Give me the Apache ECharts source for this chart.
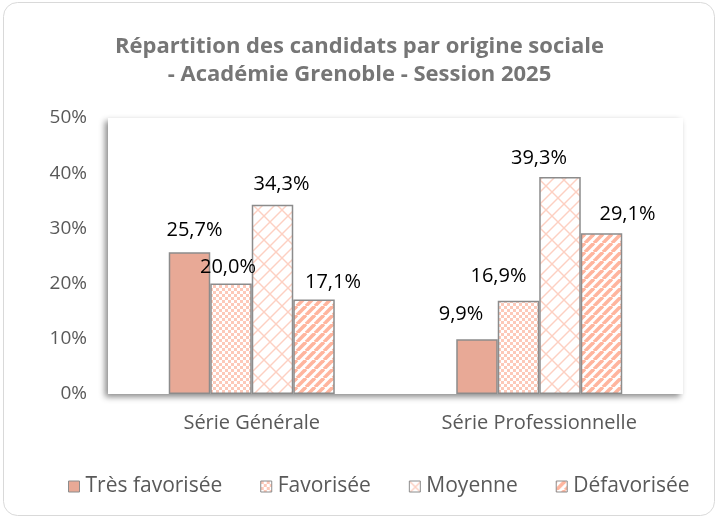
<!DOCTYPE html>
<html>
<head>
<meta charset="utf-8">
<script src="https://cdn.jsdelivr.net/npm/echarts@6/dist/echarts.min.js"></script>
<style>
  html, body { margin: 0; padding: 0; background: #fff; }
  #chart { width: 719px; height: 519px; }
</style>
</head>
<body>
<div id="chart"></div>
<script>
var categories = ["Série Générale", "Série Professionnelle"];
var seriesNames = ["Très favorisée", "Favorisée", "Moyenne", "Défavorisée"];
var tresFavorisee = [25.7, 9.9];
var favorisee = [20.0, 16.9];
var moyenne = [34.3, 39.3];
var defavorisee = [17.1, 29.1];
var yTicks = [0, 10, 20, 30, 40, 50];

// décalage manuel des étiquettes (comme dans le classeur d'origine)
var labelShift = [
  [[5, -12], [-16, -15]],
  [[-3, -6], [-20, -14]],
  [[9, -10], [-21, -9]],
  [[19, -7], [26, -9]]
];

// motifs de remplissage
function makeChecker() {
  var c = document.createElement("canvas");
  c.width = 6; c.height = 6;
  var g = c.getContext("2d");
  g.fillStyle = "#ffffff";
  g.fillRect(0, 0, 6, 6);
  g.fillStyle = "#fdc9b9";
  g.fillRect(0, 0, 3, 3);
  g.fillRect(3, 3, 3, 3);
  return c;
}
function makeStripes() {
  var c = document.createElement("canvas");
  c.width = 9; c.height = 9;
  var g = c.getContext("2d");
  g.fillStyle = "#ffffff";
  g.fillRect(0, 0, 9, 9);
  g.strokeStyle = "#ffb59e";
  g.lineWidth = 3.6;
  for (var x = -9; x <= 9; x += 9) {
    g.beginPath();
    g.moveTo(x, 9);
    g.lineTo(x + 9, 0);
    g.stroke();
  }
  return c;
}
function makeBrick() {
  var T = 24;
  var c = document.createElement("canvas");
  c.width = T; c.height = T;
  var g = c.getContext("2d");
  g.fillStyle = "#ffffff";
  g.fillRect(0, 0, T, T);
  g.strokeStyle = "#fdd0c2";
  g.lineWidth = 1.4;
  for (var k = -4; k <= 6; k++) {
    g.beginPath();
    g.moveTo(12 * k - 40, 40);
    g.lineTo(12 * k + 40, -40);
    g.stroke();
    var t0 = (k % 2 === 0) ? 0 : 6;
    for (var m = -4; m <= 6; m++) {
      var t = t0 + 12 * m;
      g.beginPath();
      g.moveTo(t, 12 * k - t);
      g.lineTo(t + 6, 12 * k - t + 6);
      g.stroke();
    }
  }
  return c;
}

var colors = [
  "#e8a996",
  { image: makeChecker(), repeat: "repeat" },
  { image: makeBrick(), repeat: "repeat" },
  { image: makeStripes(), repeat: "repeat" }
];
var dataSets = [tresFavorisee, favorisee, moyenne, defavorisee];

var font = "'Open Sans', sans-serif";

function fmt(v) {
  return v.toFixed(1).replace(".", ",") + "%";
}

var series = [];
for (var i = 0; i < seriesNames.length; i++) {
  var items = [];
  for (var j = 0; j < dataSets[i].length; j++) {
    items.push({ value: dataSets[i][j], label: { offset: labelShift[i][j] } });
  }
  series.push({
    name: seriesNames[i],
    type: "bar",
    data: items,
    barWidth: 41.5,
    barGap: "0%",
    itemStyle: {
      color: colors[i],
      borderColor: "#8c8c8c",
      borderWidth: 1.5
    },
    label: {
      show: true,
      position: "top",
      distance: 0,
      color: "#000000",
      fontSize: 20,
      fontFamily: font,
      formatter: function (p) { return fmt(p.value); }
    }
  });
}

var chart = echarts.init(document.getElementById("chart"), null, { renderer: "canvas" });
chart.setOption({
  animation: false,
  title: {
    text: "Répartition des candidats par origine sociale\n- Académie Grenoble - Session 2025",
    left: "center",
    top: 28,
    textStyle: {
      color: "#767676",
      fontSize: 22,
      fontWeight: "bold",
      fontFamily: font,
      lineHeight: 28
    }
  },
  graphic: [{
    type: "rect",
    shape: { x: 3.5, y: 2.5, width: 711, height: 513, r: 14 },
    style: { fill: "none", stroke: "#d9d9d9", lineWidth: 1 },
    z: -10
  }],
  grid: {
    show: true,
    left: 108,
    right: 36,
    top: 118,
    bottom: 125,
    backgroundColor: "#ffffff",
    borderWidth: 0,
    shadowColor: "rgba(0,0,0,0.45)",
    shadowBlur: 6,
    shadowOffsetX: -3,
    shadowOffsetY: 3
  },
  legend: {
    data: seriesNames,
    left: 63,
    top: 471,
    itemWidth: 11,
    itemHeight: 11,
    itemGap: 38,
    icon: "rect",
    itemStyle: { borderColor: "#8c8c8c", borderWidth: 1 },
    textStyle: { color: "#595959", fontSize: 21, fontFamily: font, padding: [0, 0, 0, 1] }
  },
  xAxis: {
    type: "category",
    data: categories,
    axisLine: { show: false },
    axisTick: { show: false },
    axisLabel: { color: "#595959", fontSize: 20, fontFamily: font, margin: 19 }
  },
  yAxis: {
    type: "value",
    min: yTicks[0],
    max: yTicks[yTicks.length - 1],
    interval: 10,
    splitLine: { show: false },
    axisLine: { show: false },
    axisTick: { show: false },
    axisLabel: {
      color: "#595959",
      fontSize: 19,
      fontFamily: font,
      margin: 21,
      formatter: function (v) { return v + "%"; }
    }
  },
  series: series
});
</script>
</body>
</html>
